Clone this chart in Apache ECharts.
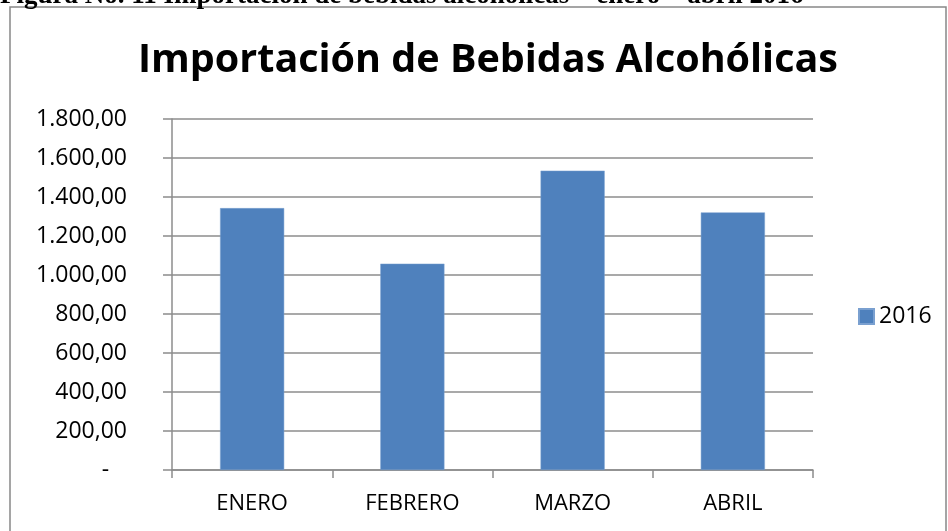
<!DOCTYPE html>
<html><head><meta charset="utf-8">
<script src="https://cdn.jsdelivr.net/npm/echarts@6/dist/echarts.min.js"></script>
<style>html,body{margin:0;padding:0;background:#fff}#c{width:948px;height:531px}</style>
</head><body><div id="c"></div>
<script>
const categories = ['ENERO', 'FEBRERO', 'MARZO', 'ABRIL'];
const seriesName = '2016';
const values = [1343, 1058, 1535, 1321];
const yTicks = [0, 200, 400, 600, 800, 1000, 1200, 1400, 1600, 1800];

function fmt(v) {
  if (v === 0) return '-   ';
  const s = v.toFixed(2).split('.');
  return s[0].replace(/\B(?=(\d{3})+(?!\d))/g, '.') + ',' + s[1];
}
const FONT = '"Open Sans", sans-serif';
const chart = echarts.init(document.getElementById('c'));
chart.setOption({
  animation: false,
  backgroundColor: '#fff',
  title: {
    text: 'Importación de Bebidas Alcohólicas',
    left: 133, top: 36,
    textStyle: { fontFamily: FONT, fontWeight: 'bold', fontSize: 39.5, color: '#000' }
  },
  graphic: [
    { type: 'rect', shape: { x: 10, y: 7, width: 936, height: 540 }, style: { fill: 'none', stroke: '#888', lineWidth: 1.5 } },
    { type: 'text', left: 0, top: -17, style: { text: 'Figura No. 11 Importación de bebidas alcohólicas – enero – abril 2016', font: 'bold 27px "Liberation Serif", serif', fill: '#000' } }
  ],
  legend: {
    data: [seriesName], left: 853, top: 300, icon: 'rect', itemWidth: 15, itemHeight: 15, itemGap: 5,
    textStyle: { fontFamily: FONT, fontSize: 23, color: '#000' }
  },
  grid: { left: 172, right: 135, top: 119, bottom: 61 },
  xAxis: {
    type: 'category', data: categories,
    axisLine: { lineStyle: { color: '#8c8c8c', width: 1.5 } },
    axisTick: { show: true, length: 8, alignWithLabel: false, lineStyle: { color: '#8c8c8c', width: 1.5 } },
    axisLabel: { fontFamily: FONT, fontSize: 22, color: '#000', margin: 23 }
  },
  yAxis: {
    type: 'value', min: 0, max: 1800, interval: 200,
    axisLine: { show: true, lineStyle: { color: '#8c8c8c', width: 1.5 } },
    axisTick: { show: true, length: 9, inside: false, lineStyle: { color: '#8c8c8c', width: 1.5 } },
    splitLine: { show: true, lineStyle: { color: '#8c8c8c', width: 1.5 } },
    axisLabel: { fontFamily: FONT, fontSize: 23, color: '#000', margin: 45, formatter: v => yTicks.includes(v) ? fmt(v) : '' }
  },
  series: [{
    name: seriesName, type: 'bar', data: values, barWidth: '40%',
    itemStyle: { color: '#4F81BD', borderColor: '#7aa0d0', borderWidth: 0.5 }
  }]
});
</script></body></html>
